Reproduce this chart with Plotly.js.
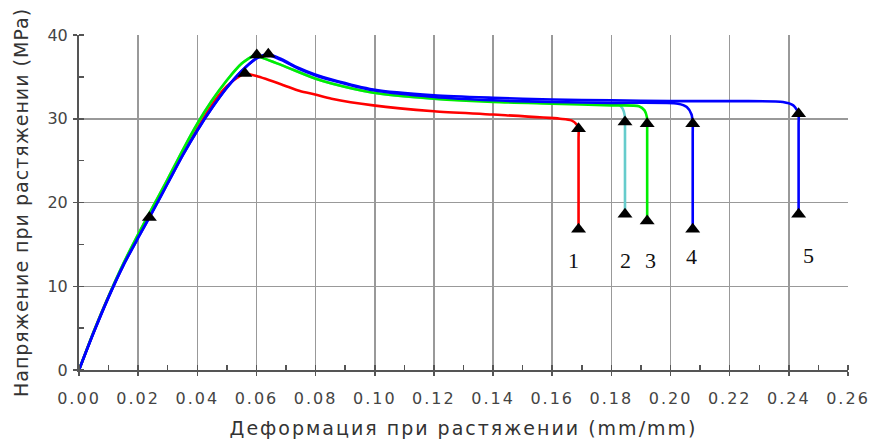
<!DOCTYPE html>
<html>
<head>
<meta charset="utf-8">
<script src="https://cdn.plot.ly/plotly-3.0.1.min.js"></script>
<style>
  html, body { margin: 0; padding: 0; background: #fff; }
  #chart { width: 870px; height: 439px; }
  #chart .xtick text { letter-spacing: 2px; }
  #chart .xtitle { letter-spacing: 2px; }
  #chart .ytitle { letter-spacing: 1px; }
</style>
</head>
<body>
<div id="chart"></div>
<script>
// Series 1 (red)
const x1 = [0, 0.005, 0.01, 0.015, 0.02, 0.025, 0.03, 0.035, 0.04, 0.045, 0.05, 0.0535, 0.0561, 0.060, 0.0685, 0.0747, 0.0798, 0.0854, 0.0995, 0.12, 0.14, 0.1626, 0.1665, 0.1683, 0.1689, 0.1689, 0.1689];
const y1 = [0, 4.6, 8.8, 12.6, 16.0, 19.3, 22.6, 26.0, 29.1, 31.8, 33.9, 34.9, 35.4, 35.1, 34.1, 33.3, 32.9, 32.4, 31.6, 30.9, 30.5, 30.0, 29.8, 29.3, 28.8, 27.6, 16.8];
// Series 2 (cyan)
const x2 = [0, 0.005, 0.01, 0.015, 0.02, 0.025, 0.03, 0.035, 0.04, 0.045, 0.05, 0.055, 0.0589, 0.0601, 0.0685, 0.0798, 0.0854, 0.0995, 0.12, 0.14, 0.16, 0.1825, 0.1838, 0.1845, 0.1846, 0.1846, 0.1846];
const y2 = [0, 4.6, 8.8, 12.7, 16.2, 19.5, 22.8, 26.2, 29.4, 32.2, 34.6, 36.6, 37.5, 37.5, 36.4, 34.8, 34.2, 33.1, 32.4, 32.1, 31.9, 31.7, 31.2, 30.4, 29.6, 28.4, 18.6];
// Series 3 (green)
const x3 = [0, 0.005, 0.01, 0.015, 0.02, 0.025, 0.03, 0.035, 0.04, 0.045, 0.05, 0.055, 0.0589, 0.0601, 0.0685, 0.0798, 0.0854, 0.0995, 0.12, 0.14, 0.16, 0.18, 0.1893, 0.1912, 0.1920, 0.1921, 0.1921, 0.1921];
const y3 = [0, 4.6, 8.8, 12.7, 16.2, 19.5, 22.8, 26.2, 29.4, 32.2, 34.6, 36.6, 37.5, 37.5, 36.4, 34.8, 34.2, 33.1, 32.4, 32.0, 31.8, 31.6, 31.5, 31.0, 30.2, 29.4, 28.2, 17.8];
// Series 4 (blue)
const x4 = [0, 0.005, 0.01, 0.015, 0.02, 0.025, 0.03, 0.035, 0.04, 0.045, 0.05, 0.055, 0.06, 0.064, 0.0685, 0.0741, 0.0798, 0.0854, 0.0995, 0.12, 0.14, 0.16, 0.18, 0.2025, 0.2055, 0.2071, 0.2075, 0.2075, 0.2075];
const y4 = [0, 4.5, 8.7, 12.5, 15.8, 19.0, 22.3, 25.6, 28.6, 31.3, 33.7, 35.7, 37.2, 37.6, 37.0, 36.0, 35.2, 34.6, 33.4, 32.6, 32.2, 32.0, 31.9, 31.8, 31.4, 30.5, 29.4, 28.2, 16.8];
// Series 5 (blue)
const x5 = [0, 0.005, 0.01, 0.015, 0.02, 0.025, 0.03, 0.035, 0.04, 0.045, 0.05, 0.055, 0.06, 0.064, 0.0685, 0.0741, 0.0798, 0.0854, 0.0995, 0.12, 0.14, 0.16, 0.18, 0.20, 0.22, 0.238, 0.2415, 0.2428, 0.2433, 0.2433, 0.2433];
const y5 = [0, 4.5, 8.7, 12.5, 15.8, 19.0, 22.3, 25.6, 28.6, 31.3, 33.7, 35.7, 37.2, 37.7, 37.1, 36.1, 35.3, 34.7, 33.5, 32.8, 32.5, 32.3, 32.2, 32.1, 32.1, 32.0, 31.6, 31.0, 30.6, 29.4, 18.6];

// Triangle markers
const markX = [0.0238, 0.0561, 0.0601, 0.0640, 0.1689, 0.1689, 0.1846, 0.1846, 0.1921, 0.1921, 0.2075, 0.2075, 0.2433, 0.2433];
const markY = [18.2, 35.4, 37.6, 37.7, 28.8, 16.8, 29.6, 18.6, 29.4, 17.8, 29.4, 16.8, 30.6, 18.6];

// Curve labels
const labelText = ['1', '2', '3', '4', '5'];
const labelX = [0.1671, 0.1848, 0.1933, 0.2071, 0.2466];
const labelY = [13.1, 13.1, 13.1, 13.5, 13.7];

const xTicks = [0, 0.02, 0.04, 0.06, 0.08, 0.10, 0.12, 0.14, 0.16, 0.18, 0.20, 0.22, 0.24, 0.26];
const xTickText = ['0.00', '0.02', '0.04', '0.06', '0.08', '0.10', '0.12', '0.14', '0.16', '0.18', '0.20', '0.22', '0.24', '0.26'];
const yTicks = [0, 10, 20, 30, 40];

const colors = ['#ff0000', '#66cccc', '#00ee00', '#0000ff', '#0000ff'];
const xs = [x1, x2, x3, x4, x5];
const ys = [y1, y2, y3, y4, y5];

const traces = xs.map((x, i) => ({
  x: x, y: ys[i], type: 'scatter', mode: 'lines',
  line: { color: colors[i], width: 2.6, shape: 'spline', smoothing: 0.7 },
  hoverinfo: 'skip', showlegend: false
}));
traces.push({
  x: markX, y: markY, type: 'scatter', mode: 'markers',
  marker: { symbol: 'triangle-up', size: 13, color: '#000' },
  hoverinfo: 'skip', showlegend: false
});

const annotations = labelText.map((t, i) => ({
  x: labelX[i], y: labelY[i], xref: 'x', yref: 'y', text: t, showarrow: false,
  font: { family: 'Liberation Serif, Times New Roman, serif', size: 22, color: '#111' }
}));

const gridColor = '#999999';
const layout = {
  width: 870, height: 439,
  margin: { l: 79, r: 22, t: 35, b: 69 },
  paper_bgcolor: '#fff', plot_bgcolor: '#fff',
  font: { family: 'DejaVu Sans, Verdana, sans-serif', color: '#444' },
  xaxis: {
    range: [0, 0.26], tickvals: xTicks, ticktext: xTickText,
    showgrid: true, gridcolor: gridColor, gridwidth: 1.5,
    zeroline: false, showline: true, linecolor: '#555', linewidth: 2,
    ticks: 'outside', ticklen: 4, tickcolor: '#555', tickwidth: 1.5,
    minor: { ticks: 'inside', ticklen: 5, dtick: 0.01, tick0: 0, tickcolor: '#555', tickwidth: 1.5, showgrid: false },
    tickfont: { size: 16, color: '#444' },
    ticklabelstandoff: 9,
    title: { text: 'Деформация при растяжении (mm/mm)', font: { size: 19, color: '#333' }, standoff: 14 },
    fixedrange: true
  },
  yaxis: {
    range: [0, 40], tickvals: yTicks,
    showgrid: true, gridcolor: gridColor, gridwidth: 1.5,
    zeroline: false, showline: true, linecolor: '#555', linewidth: 2,
    ticks: 'outside', ticklen: 4, tickcolor: '#555', tickwidth: 1.5,
    minor: { ticks: 'inside', ticklen: 5, dtick: 5, tick0: 0, tickcolor: '#555', tickwidth: 1.5, showgrid: false },
    tickfont: { size: 16, color: '#444' },
    ticklabelstandoff: 2,
    title: { text: 'Напряжение при растяжении (MPa)', font: { size: 19, color: '#333' }, standoff: 14 },
    fixedrange: true
  },
  annotations: annotations,
  showlegend: false
};

Plotly.newPlot('chart', traces, layout, { staticPlot: true, displayModeBar: false });
</script>
</body>
</html>
